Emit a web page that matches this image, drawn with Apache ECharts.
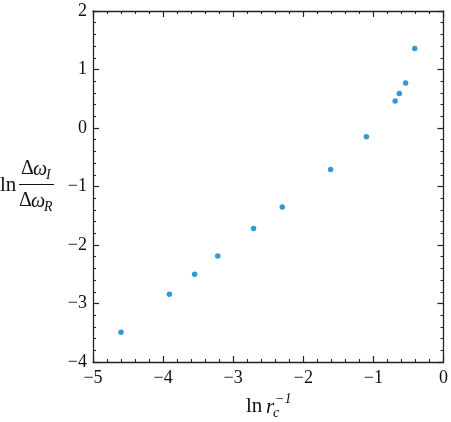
<!DOCTYPE html>
<html>
<head>
<meta charset="utf-8">
<script src="https://cdn.jsdelivr.net/npm/echarts@6/dist/echarts.min.js"></script>
<style>html,body{margin:0;padding:0;background:#fff}#c{width:451px;height:422px}</style>
</head>
<body>
<div id="c"></div>
<script>
// Data
var xValues = [-4.60, -3.91, -3.55, -3.22, -2.71, -2.30, -1.61, -1.10, -0.69, -0.63, -0.54, -0.41];
var yValues = [-3.49, -2.84, -2.50, -2.19, -1.72, -1.35, -0.71, -0.15, 0.46, 0.59, 0.77, 1.36];
var xTicks = [-5, -4, -3, -2, -1, 0];
var yTicks = [-4, -3, -2, -1, 0, 1, 2];

var pts = xValues.map(function (x, i) { return [x, yValues[i]]; });
var FONT = 'Liberation Serif';
var AX = '#222';
function fmt(v) { return v < 0 ? '\u2212' + Math.abs(v) : String(v); }

function xAxisDef(pos, labels) {
  return {
    type: 'value', position: pos, min: xTicks[0], max: xTicks[xTicks.length - 1], interval: 1,
    axisLine: { show: true, onZero: false, lineStyle: { color: AX, width: 1.3 } },
    axisTick: { show: true, inside: true, length: 6, lineStyle: { color: AX, width: 1.2 } },
    minorTick: { show: true, splitNumber: 5, length: 3, lineStyle: { color: AX, width: 1.1 } },
    axisLabel: { show: labels, margin: 7, formatter: fmt, fontFamily: FONT, fontSize: 18, color: '#111' },
    splitLine: { show: false }
  };
}
function yAxisDef(pos, labels) {
  return {
    type: 'value', position: pos, min: yTicks[0], max: yTicks[yTicks.length - 1], interval: 1,
    axisLine: { show: true, onZero: false, lineStyle: { color: AX, width: 1.3 } },
    axisTick: { show: true, inside: true, length: 6, lineStyle: { color: AX, width: 1.2 } },
    minorTick: { show: true, splitNumber: 5, length: 3, lineStyle: { color: AX, width: 1.1 } },
    axisLabel: { show: labels, margin: 6, formatter: fmt, fontFamily: FONT, fontSize: 18, color: '#111' },
    splitLine: { show: false }
  };
}

var chart = echarts.init(document.getElementById('c'), null, { renderer: 'canvas' });
var tStyle = function (text, x, y, size, italic, align) {
  return {
    type: 'text', x: x, y: y,
    style: { text: text, fontFamily: FONT, fontSize: size, fontStyle: italic ? 'italic' : 'normal',
             fill: '#111', align: align || 'left', verticalAlign: 'middle' }
  };
};
chart.setOption({
  animation: false,
  grid: { left: 93, right: 7, top: 11, bottom: 60, containLabel: false },
  xAxis: [xAxisDef('bottom', true), xAxisDef('top', false)],
  yAxis: [yAxisDef('left', true), yAxisDef('right', false)],
  series: [{
    type: 'scatter', xAxisIndex: 0, yAxisIndex: 0, data: pts,
    symbol: 'circle', symbolSize: 5.5,
    itemStyle: { color: '#3399d3', opacity: 1 }
  }],
  graphic: [
    // y-axis title: ln (Δω_I / Δω_R)
    tStyle('ln', 0, 185, 21, false),
    tStyle('\u0394', 21, 169, 20, false),
    tStyle('\u03c9', 33, 170, 20, true),
    tStyle('I', 46, 175, 14, true),
    { type: 'line', shape: { x1: 19, y1: 184.5, x2: 54, y2: 184.5 }, style: { stroke: '#111', lineWidth: 1 } },
    tStyle('\u0394', 19, 201, 20, false),
    tStyle('\u03c9', 31, 202, 20, true),
    tStyle('R', 44, 207, 14, true),
    // x-axis title: ln r_c^{-1}
    tStyle('ln', 246, 406, 21, false),
    tStyle('r', 266, 407, 21, true),
    tStyle('c', 273, 413, 14, true),
    tStyle('\u22121', 275, 399, 14, true)
  ]
});
</script>
</body>
</html>
